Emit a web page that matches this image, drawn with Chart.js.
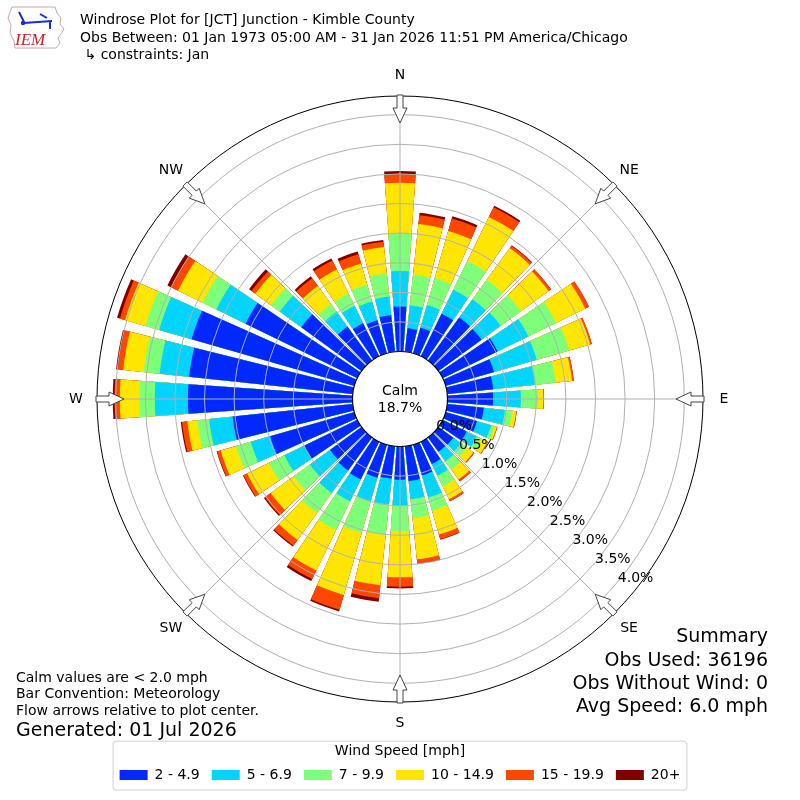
<!DOCTYPE html>
<html>
<head>
<meta charset="utf-8">
<title>Windrose JCT</title>
<script src="https://cdn.jsdelivr.net/npm/chart.js@4.4.1/dist/chart.umd.min.js"></script>
<style>
  html, body { margin: 0; padding: 0; background: #fff; }
</style>
</head>
<body>
<canvas id="windrose" width="800" height="800"></canvas>
<script>
// direction bins (degrees, direction the wind blows from)
const directions = [0, 10, 20, 30, 40, 50, 60, 70, 80, 90, 100, 110, 120, 130, 140, 150, 160, 170,
  180, 190, 200, 210, 220, 230, 240, 250, 260, 270, 280, 290, 300, 310, 320, 330, 340, 350];

const speedBins = ['2 - 4.9', '5 - 6.9', '7 - 9.9', '10 - 14.9', '15 - 19.9', '20+'];

// percent of all obs, per direction, per speed bin
const pct2to5 = [0.76, 0.40, 0.45, 0.80, 0.90, 0.90, 1.03, 0.85, 0.78, 0.77, 0.62, 0.55, 0.45, 0.31, 0.30, 0.42, 0.54, 0.59,
  0.56, 0.55, 0.58, 0.71, 0.69, 0.66, 1.00, 1.48, 2.04, 2.78, 2.78, 2.86, 2.10, 1.26, 0.71, 0.62, 0.58, 0.62];
const pct5to7 = [0.60, 0.39, 0.40, 0.45, 0.38, 0.40, 0.58, 0.75, 0.71, 0.47, 0.36, 0.25, 0.19, 0.16, 0.20, 0.22, 0.39, 0.31,
  0.44, 0.44, 0.41, 0.41, 0.47, 0.42, 0.37, 0.34, 0.40, 0.56, 0.50, 0.57, 0.55, 0.45, 0.31, 0.33, 0.33, 0.32];
const pct7to10 = [0.64, 0.52, 0.47, 0.54, 0.41, 0.42, 0.52, 0.57, 0.35, 0.29, 0.12, 0.06, 0.09, 0.12, 0.17, 0.20, 0.23, 0.32,
  0.43, 0.52, 0.56, 0.54, 0.42, 0.34, 0.29, 0.26, 0.20, 0.26, 0.27, 0.24, 0.26, 0.18, 0.16, 0.23, 0.30, 0.39];
const pct10to15 = [0.85, 0.86, 0.83, 0.83, 0.66, 0.58, 0.55, 0.37, 0.28, 0.09, 0.07, 0.04, 0.11, 0.14, 0.21, 0.24, 0.42, 0.70,
  0.78, 0.85, 1.09, 0.76, 0.56, 0.48, 0.41, 0.27, 0.17, 0.33, 0.35, 0.36, 0.46, 0.33, 0.38, 0.45, 0.37, 0.45];
const pct15to20 = [0.15, 0.15, 0.22, 0.18, 0.05, 0.05, 0.07, 0.03, 0.03, 0.01, 0.01, 0.01, 0.01, 0.02, 0.04, 0.04, 0.08, 0.07,
  0.16, 0.22, 0.26, 0.16, 0.12, 0.12, 0.07, 0.06, 0.09, 0.09, 0.09, 0.09, 0.13, 0.08, 0.16, 0.17, 0.16, 0.09];
const pct20up = [0.05, 0.04, 0.04, 0.03, 0.01, 0.00, 0.00, 0.00, 0.00, 0.00, 0.00, 0.00, 0.00, 0.00, 0.00, 0.00, 0.01, 0.01,
  0.03, 0.06, 0.03, 0.04, 0.02, 0.02, 0.01, 0.01, 0.02, 0.03, 0.03, 0.05, 0.07, 0.05, 0.04, 0.04, 0.05, 0.03];

const rTicks = [0.0, 0.5, 1.0, 1.5, 2.0, 2.5, 3.0, 3.5, 4.0];
const compass = ['N', 'NE', 'E', 'SE', 'S', 'SW', 'W', 'NW'];
const calmPct = 18.7;

const speedColors = ['#0028ff', '#00d4ff', '#7dff7a', '#ffe600', '#ff4700', '#800000'];
const speedSeries = [pct2to5, pct5to7, pct7to10, pct10to15, pct15to20, pct20up];
const FONT = 'DejaVu Sans';

// stack the bins: every ring goes from the centre to its running total,
// the slower rings are drawn last so they sit on top.
// each bar (8 deg) is followed by an empty gap slot (2 deg)
const running = directions.map(() => 0);
const datasets = speedSeries.map(function (series, k) {
  const data = [];
  series.forEach(function (v, i) {
    running[i] += v;
    data.push(Math.round(running[i] * 1000) / 1000, 0);
  });
  return {
    label: speedBins[k],
    data: data,
    backgroundColor: (ctx) => (ctx.dataIndex % 2 ? 'rgba(0,0,0,0)' : speedColors[k]),
    borderWidth: 0,
    angle: (ctx) => (ctx.dataIndex % 2 ? 2 : 8)
  };
});

const labels = [];
directions.forEach((d) => labels.push(d + '\u00b0', ''));

// legend frame, drawn under the legend
const legendFrame = {
  id: 'legendFrame',
  beforeDraw(chart) {
    const lg = chart.legend;
    if (!lg || !lg.legendHitBoxes.length) return;
    const hb = lg.legendHitBoxes[0];
    const left = hb.left - 6.5;
    const right = chart.width - left;
    const top = lg.top + 39;
    const bottom = hb.top + hb.height + 8;
    const ctx = chart.ctx;
    ctx.save();
    ctx.beginPath();
    ctx.roundRect(left, top, right - left, bottom - top, 3);
    ctx.fillStyle = '#ffffff';
    ctx.fill();
    ctx.strokeStyle = '#d0d0d0';
    ctx.lineWidth = 1;
    ctx.stroke();
    ctx.restore();
  }
};

// everything matplotlib puts around the rose
const roseDecor = {
  id: 'roseDecor',
  afterDraw(chart) {
    const ctx = chart.ctx;
    const sc = chart.scales.r;
    const cx = sc.xCenter, cy = sc.yCenter;
    const r0 = sc.getDistanceFromCenterForValue(0);
    const rMax = sc.drawingArea;
    ctx.save();

    // angle lines every 45 deg
    ctx.strokeStyle = '#b0b0b0';
    ctx.lineWidth = 1;
    for (let i = 0; i < 8; i++) {
      const a = i * Math.PI / 4;
      ctx.beginPath();
      ctx.moveTo(cx + r0 * Math.sin(a), cy - r0 * Math.cos(a));
      ctx.lineTo(cx + rMax * Math.sin(a), cy - rMax * Math.cos(a));
      ctx.stroke();
    }

    // calm circle
    ctx.beginPath();
    ctx.arc(cx, cy, r0, 0, Math.PI * 2);
    ctx.fillStyle = '#ffffff';
    ctx.fill();
    ctx.strokeStyle = '#000000';
    ctx.lineWidth = 1.2;
    ctx.stroke();
    ctx.fillStyle = '#000';
    ctx.font = '14px "' + FONT + '"';
    ctx.textAlign = 'center';
    ctx.textBaseline = 'alphabetic';
    ctx.fillText('Calm', cx, cy - 4);
    ctx.fillText(calmPct.toFixed(1) + '%', cx, cy + 13);

    // radial tick labels along 130 deg
    const la = 40 * Math.PI / 180;
    ctx.textAlign = 'left';
    rTicks.forEach(function (v) {
      const rr = sc.getDistanceFromCenterForValue(v);
      ctx.fillText(v.toFixed(1) + '%', cx + rr * Math.cos(la), cy + rr * Math.sin(la));
    });

    // inward arrows and compass labels
    compass.forEach(function (name, i) {
      const a = i * Math.PI / 4;
      const s = Math.sin(a), c = Math.cos(a);
      const pts = [[rMax + 1, -3], [rMax - 12, -3], [rMax - 12, -7], [rMax - 27, 0],
        [rMax - 12, 7], [rMax - 12, 3], [rMax + 1, 3]];
      ctx.beginPath();
      pts.forEach(function (p, j) {
        const x = cx + p[0] * s + p[1] * c;
        const y = cy - p[0] * c + p[1] * s;
        if (j === 0) ctx.moveTo(x, y); else ctx.lineTo(x, y);
      });
      ctx.closePath();
      ctx.fillStyle = '#ffffff';
      ctx.fill();
      ctx.strokeStyle = '#444444';
      ctx.lineWidth = 1;
      ctx.stroke();

      ctx.fillStyle = '#000';
      ctx.textAlign = 'center';
      ctx.textBaseline = 'middle';
      ctx.fillText(name, cx + (rMax + 21) * s, cy - (rMax + 21) * c);
    });

    // header
    ctx.textAlign = 'left';
    ctx.textBaseline = 'alphabetic';
    ctx.fillStyle = '#000';
    ctx.font = '14px "' + FONT + '"';
    ctx.fillText('Windrose Plot for [JCT] Junction - Kimble County', 80, 24);
    ctx.fillText('Obs Between: 01 Jan 1973 05:00 AM - 31 Jan 2026 11:51 PM America/Chicago', 80, 42);
    ctx.fillText(' \u21b3 constraints: Jan', 80, 59);

    // notes bottom left
    ctx.fillText('Calm values are < 2.0 mph', 16, 682);
    ctx.fillText('Bar Convention: Meteorology', 16, 698);
    ctx.fillText('Flow arrows relative to plot center.', 16, 715);
    ctx.font = '19px "' + FONT + '"';
    ctx.fillText('Generated: 01 Jul 2026', 16, 736);

    // summary bottom right
    ctx.textAlign = 'right';
    ctx.fillText('Summary', 768, 642);
    ctx.fillText('Obs Used: 36196', 768, 666);
    ctx.fillText('Obs Without Wind: 0', 768, 689);
    ctx.fillText('Avg Speed: 6.0 mph', 768, 712);

    // IEM logo, roughly
    ctx.beginPath();
    const outline = [[12, 7], [55, 7], [57, 13], [61, 18], [60, 24], [64, 29], [61, 34], [58, 38],
      [60, 43], [56, 48], [15, 48], [14, 41], [10, 33], [11, 25], [8, 18], [10, 12]];
    outline.forEach(function (p, j) { if (j === 0) ctx.moveTo(p[0], p[1]); else ctx.lineTo(p[0], p[1]); });
    ctx.closePath();
    ctx.strokeStyle = '#c8a8a8';
    ctx.lineWidth = 1;
    ctx.stroke();
    ctx.strokeStyle = '#1a2ecc';
    ctx.fillStyle = '#1a2ecc';
    ctx.lineWidth = 2;
    ctx.beginPath();
    ctx.moveTo(24, 23); ctx.lineTo(52, 21);
    ctx.moveTo(19, 12); ctx.lineTo(24, 22);
    ctx.moveTo(40, 14); ctx.lineTo(47, 18);
    ctx.moveTo(50, 22); ctx.lineTo(50, 29);
    ctx.stroke();
    ctx.beginPath();
    ctx.arc(23, 23, 2.2, 0, Math.PI * 2);
    ctx.fill();
    ctx.fillStyle = '#cc2222';
    ctx.font = 'italic 17px "Liberation Serif"';
    ctx.textAlign = 'left';
    ctx.fillText('IEM', 15, 45);

    ctx.restore();
  }
};

new Chart(document.getElementById('windrose'), {
  type: 'polarArea',
  data: { labels: labels, datasets: datasets },
  options: {
    responsive: false,
    animation: false,
    events: [],
    layout: { padding: { left: 97, right: 97, top: 96, bottom: 8 } },
    scales: {
      r: {
        min: -0.802,
        max: 4.316,
        startAngle: -4,
        angleLines: { display: false },
        pointLabels: { display: false },
        ticks: { display: false },
        grid: {
          z: 1,
          circular: true,
          lineWidth: 1,
          color: (ctx) => (ctx.index === rTicks.length ? '#000000' : '#b0b0b0')
        },
        afterBuildTicks: function (scale) {
          scale.ticks = rTicks.map((v) => ({ value: v })).concat([{ value: scale.max }]);
        }
      }
    },
    plugins: {
      tooltip: { enabled: false },
      legend: {
        position: 'bottom',
        align: 'center',
        title: {
          display: true,
          text: 'Wind Speed [mph]',
          color: '#000',
          font: { family: FONT, size: 14 },
          padding: { top: 42, bottom: -5 }
        },
        labels: {
          color: '#000',
          font: { family: FONT, size: 14 },
          boxWidth: 28,
          boxHeight: 10,
          padding: 12,
          generateLabels: (chart) => chart.data.datasets.map((ds, i) => ({
            text: ds.label,
            fillStyle: speedColors[i],
            strokeStyle: speedColors[i],
            lineWidth: 0,
            hidden: false,
            datasetIndex: i
          }))
        }
      }
    }
  },
  plugins: [legendFrame, roseDecor]
});
</script>
</body>
</html>
